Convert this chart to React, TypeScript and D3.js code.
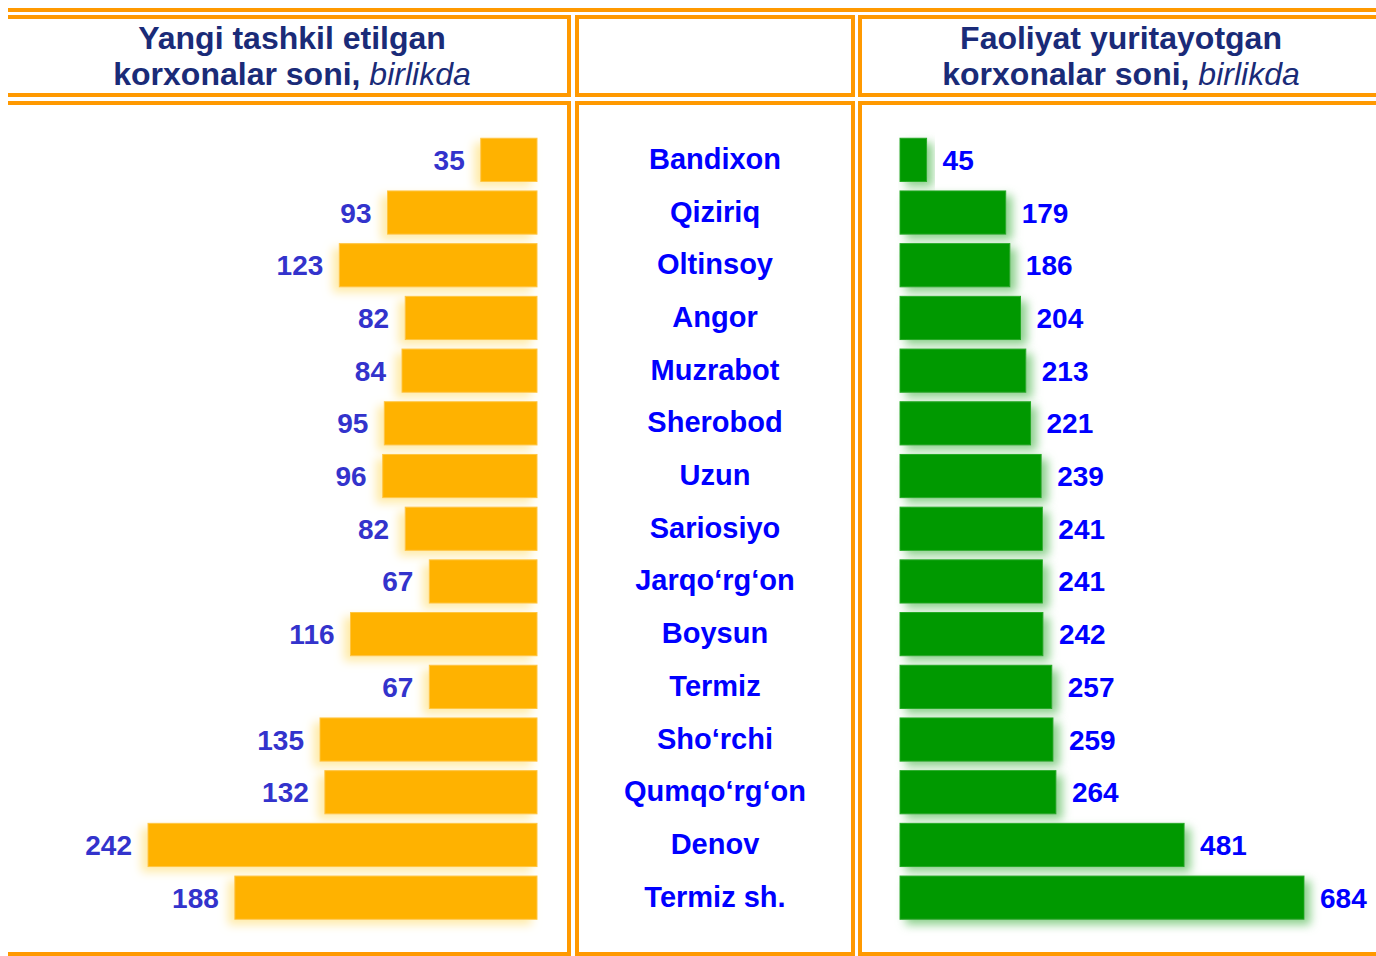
import React, { useEffect, useRef } from 'react';
import * as d3 from 'd3';

const districts = [
  'Bandixon', 'Qiziriq', 'Oltinsoy', 'Angor', 'Muzrabot', 'Sherobod', 'Uzun', 'Sariosiyo',
  'Jarqo‘rg‘on', 'Boysun', 'Termiz', 'Sho‘rchi', 'Qumqo‘rg‘on', 'Denov', 'Termiz sh.',
];
const newFirms = [35, 93, 123, 82, 84, 95, 96, 82, 67, 116, 67, 135, 132, 242, 188];
const activeFirms = [45, 179, 186, 204, 213, 221, 239, 241, 241, 242, 257, 259, 264, 481, 684];

const leftTitle = ['Yangi tashkil etilgan', 'korxonalar soni, '];
const rightTitle = ['Faoliyat yuritayotgan', 'korxonalar soni, '];
const unitText = 'birlikda';

const W = 1376;
const H = 956;
const ORANGE = '#FF9900';
const FONT = '"Liberation Sans", Arial, sans-serif';

const App = () => {
  const svgRef = useRef<SVGSVGElement>(null);

  useEffect(() => {
    const svg = d3.select(svgRef.current);
    svg.selectAll('*').remove();

    const defs = svg.append('defs');
    const glow = (id: string, dx: number, color: string) => {
      const f = defs.append('filter').attr('id', id)
        .attr('x', '-30%').attr('y', '-40%').attr('width', '160%').attr('height', '190%');
      f.append('feGaussianBlur').attr('in', 'SourceAlpha').attr('stdDeviation', 5).attr('result', 'b');
      f.append('feOffset').attr('in', 'b').attr('dx', dx).attr('dy', 5).attr('result', 'o');
      f.append('feFlood').attr('flood-color', color);
      f.append('feComposite').attr('in2', 'o').attr('operator', 'in').attr('result', 's');
      const m = f.append('feMerge');
      m.append('feMergeNode').attr('in', 's');
      m.append('feMergeNode').attr('in', 'SourceGraphic');
    };
    glow('glowL', -6, '#FFEBA8');
    glow('glowR', 6, '#8CD08C');

    // frames
    const line = (x1: number, y1: number, x2: number, y2: number) =>
      svg.append('line').attr('x1', x1).attr('y1', y1).attr('x2', x2).attr('y2', y2)
        .attr('stroke', ORANGE).attr('stroke-width', 4);
    line(8, 10, W, 10);
    // header boxes
    line(8, 17, 569, 17); line(8, 95, 569, 95); line(569, 15, 569, 97);
    line(575, 17, 853, 17); line(575, 95, 853, 95); line(577, 15, 577, 97); line(853, 15, 853, 97);
    line(858, 17, W, 17); line(858, 95, W, 95); line(860, 15, 860, 97);
    // body boxes
    line(8, 103, 569, 103); line(8, 954, 569, 954); line(569, 101, 569, 956);
    line(575, 103, 853, 103); line(575, 954, 853, 954); line(577, 101, 577, 956); line(853, 101, 853, 956);
    line(858, 103, W, 103); line(858, 954, W, 954); line(860, 101, 860, 956);

    // titles
    const title = (cx: number, lines: string[]) => {
      const t = svg.append('g').attr('font-family', FONT).attr('font-size', 32)
        .attr('fill', '#1A2B78').attr('text-anchor', 'middle');
      t.append('text').attr('x', cx).attr('y', 49).attr('font-weight', 'bold').text(lines[0]);
      const t2 = t.append('text').attr('x', cx).attr('y', 85);
      t2.append('tspan').attr('font-weight', 'bold').text(lines[1]);
      t2.append('tspan').attr('font-style', 'italic').text(unitText);
    };
    title(292, leftTitle);
    title(1121, rightTitle);

    const y = d3.scaleBand<string>().domain(districts).range([133.5, 924])
      .paddingInner(0.18).paddingOuter(0.09);

    // left bars
    const xl = d3.scaleLinear().domain([0, 242]).range([537, 148]);
    const gl = svg.append('g');
    gl.selectAll('rect').data(newFirms).enter().append('rect')
      .attr('x', d => xl(d)).attr('y', (d, i) => y(districts[i])!)
      .attr('width', d => xl(0) - xl(d)).attr('height', y.bandwidth())
      .attr('fill', '#FFB200').attr('stroke', '#FFC640').attr('stroke-width', 1)
      .attr('filter', 'url(#glowL)');
    gl.selectAll('text').data(newFirms).enter().append('text')
      .attr('x', d => xl(d) - 16).attr('y', (d, i) => y(districts[i])! + y.bandwidth() / 2 + 10)
      .attr('text-anchor', 'end').attr('font-family', FONT).attr('font-weight', 'bold')
      .attr('font-size', 28).attr('fill', '#3333CC').text(d => d);

    // right bars
    const xr = d3.scaleLinear().domain([0, 684]).range([900, 1304]);
    const gr = svg.append('g');
    gr.selectAll('rect').data(activeFirms).enter().append('rect')
      .attr('x', xr(0)).attr('y', (d, i) => y(districts[i])!)
      .attr('width', d => xr(d) - xr(0)).attr('height', y.bandwidth())
      .attr('fill', '#009900').attr('stroke', '#22AA22').attr('stroke-width', 1)
      .attr('filter', 'url(#glowR)');
    gr.selectAll('text').data(activeFirms).enter().append('text')
      .attr('x', d => xr(d) + 16).attr('y', (d, i) => y(districts[i])! + y.bandwidth() / 2 + 10)
      .attr('font-family', FONT).attr('font-weight', 'bold')
      .attr('font-size', 28).attr('fill', '#0000FF').text(d => d);

    // district names
    svg.append('g').selectAll('text').data(districts).enter().append('text')
      .attr('x', 715).attr('y', d => y(d)! + y.bandwidth() / 2 + 9)
      .attr('text-anchor', 'middle').attr('font-family', FONT).attr('font-weight', 'bold')
      .attr('font-size', 29).attr('fill', '#0000FF').text(d => d);
  }, []);

  return (
    <svg ref={svgRef} width={W} height={H}
      style={{ position: 'absolute', left: 0, top: 0, background: '#fff' }} />
  );
};

export default App;
